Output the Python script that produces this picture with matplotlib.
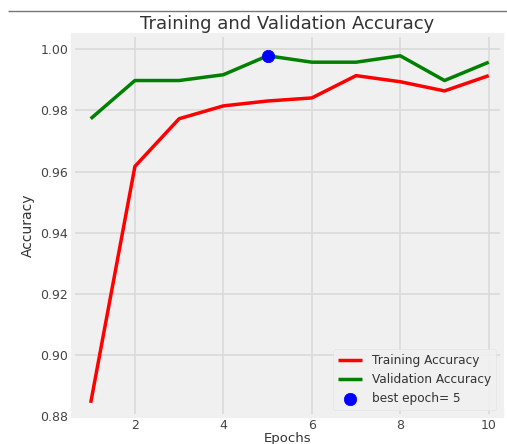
import numpy as np
import matplotlib
matplotlib.use("Agg")
import matplotlib.pyplot as plt
from matplotlib.lines import Line2D

# ---- data ----
epochs = [1, 2, 3, 4, 5, 6, 7, 8, 9, 10]
train_acc = [0.8843, 0.9617, 0.9773, 0.9815, 0.9831, 0.9841, 0.9914, 0.9894, 0.9864, 0.9914]
val_acc = [0.9773, 0.9898, 0.9898, 0.9917, 0.9979, 0.9958, 0.9958, 0.9979, 0.9898, 0.9958]
best_epoch = 5
best_val = val_acc[best_epoch - 1]

plt.style.use('fivethirtyeight')
plt.rcParams['font.family'] = ['DejaVu Sans']

fig = plt.figure(figsize=(5.07, 4.44), dpi=100)
fig.patch.set_facecolor('white')
W, H = 507, 444
ax = fig.add_axes([73 / W, (H - 416) / H, (502 - 73) / W, (416 - 35) / H])
ax.set_facecolor('#f0f0f0')

ax.plot(epochs, train_acc, color='r', linewidth=2.5, label='Training Accuracy')
ax.plot(epochs, val_acc, color='g', linewidth=2.5, label='Validation Accuracy')
ax.scatter(best_epoch, best_val, s=80, c='blue', zorder=3, label='best epoch= 5')

ax.set_xlim(0.6, 10.3)
ax.set_ylim(0.8815, 1.0047)
ax.set_xticks([2, 4, 6, 8, 10])
ax.set_yticks([0.88, 0.90, 0.92, 0.94, 0.96, 0.98, 1.00])
ax.tick_params(labelsize=9, colors='#444444', length=0)
ax.tick_params(axis='x', pad=2)
ax.grid(True, color='#dadada', linewidth=1.2)

ax.set_title('Training and Validation Accuracy', fontsize=13, color='#333333', pad=4)
ax.set_xlabel('Epochs', fontsize=9.5, color='#333333', labelpad=0)
ax.set_ylabel('Accuracy', fontsize=10, color='#333333', labelpad=4)

leg = ax.legend(loc='lower right', fontsize=8.7, facecolor='#f0f0f0', edgecolor='#e4e4e4', framealpha=0.9)
for t in leg.get_texts():
    t.set_color('#333333')

# separator line seen at the top of the screenshot
fig.add_artist(Line2D([8 / W, 1.0], [(H - 11) / H, (H - 11) / H], color='#777777', linewidth=1))

fig.savefig('out.png', dpi=100, facecolor='white')
